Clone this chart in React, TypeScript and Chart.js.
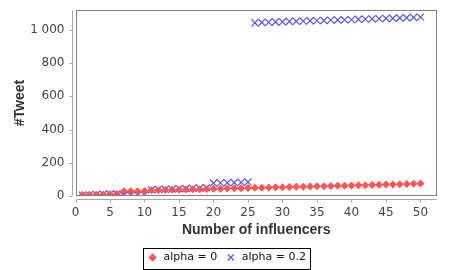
import React, { useEffect, useRef } from "react";
import { Chart, registerables } from "chart.js";

Chart.register(...registerables);

const influencers = [
  1, 2, 3, 4, 5, 6, 7, 8, 9, 10, 11, 12, 13, 14, 15, 16, 17, 18, 19, 20, 21, 22, 23, 24, 25,
  26, 27, 28, 29, 30, 31, 32, 33, 34, 35, 36, 37, 38, 39, 40, 41, 42, 43, 44, 45, 46, 47, 48, 49, 50,
];
const alpha0 = [
  6, 7, 8, 9, 10, 12, 28, 29, 29, 30, 34, 35, 36, 37, 38, 39, 40, 41, 42, 43, 44, 45, 46, 47, 48,
  49, 50, 51, 52, 53, 54, 55, 56, 57, 58, 59, 60, 61, 62, 63, 64, 65, 66, 67, 69, 70, 71, 72, 74, 76,
];
const alpha02 = [
  5, 7, 9, 11, 12, 14, 3, 4, 4, 5, 38, 40, 41, 42, 44, 45, 47, 48, 50, 78, 79, 80, 81, 82, 84,
  1043, 1045, 1046, 1048, 1049, 1051, 1052, 1053, 1055, 1056, 1057, 1059, 1060, 1061, 1062,
  1064, 1065, 1066, 1068, 1069, 1070, 1072, 1073, 1075, 1077,
];
const seriesLabels = ["alpha = 0", "alpha = 0.2"];
const xTicks = [0, 5, 10, 15, 20, 25, 30, 35, 40, 45, 50];
const yTicks = [0, 200, 400, 600, 800, 1000];

const fmt = (v: number) => String(v).replace(/\B(?=(\d{3})+(?!\d))/g, " ");

const LEGEND_SHIFT = 8;

const framePlugin = {
  id: "frame",
  afterLayout(chart: any) {
    const lg = chart.legend;
    if (!lg) return;
    lg.left += LEGEND_SHIFT;
    lg.right += LEGEND_SHIFT;
    (lg.legendHitBoxes || []).forEach((h: any) => {
      h.left += LEGEND_SHIFT;
    });
  },
  afterDraw(chart: any) {
    const { ctx, chartArea: a, scales } = chart;
    ctx.save();
    ctx.lineWidth = 1;
    ctx.strokeStyle = "#808080";
    const l = Math.round(a.left) + 0.5;
    const t = Math.round(a.top) + 0.5;
    const r = Math.round(a.right) - 0.5;
    const b = Math.round(a.bottom) - 0.5;
    ctx.strokeRect(l, t, r - l, b - t);
    ctx.strokeStyle = "#a8a8a8";
    ctx.beginPath();
    const yx = l - 4;
    ctx.moveTo(yx, t);
    ctx.lineTo(yx, b);
    yTicks.forEach((v) => {
      const py = Math.round(scales.y.getPixelForValue(v)) + 0.5;
      ctx.moveTo(yx - 3, py);
      ctx.lineTo(yx, py);
    });
    const xy = b + 4;
    ctx.moveTo(l, xy);
    ctx.lineTo(r, xy);
    xTicks.forEach((v) => {
      const px = Math.round(scales.x.getPixelForValue(v)) + 0.5;
      ctx.moveTo(px, xy);
      ctx.lineTo(px, xy + 3);
    });
    ctx.stroke();
    const lg = chart.legend;
    const hb = lg && lg.legendHitBoxes;
    if (hb && hb.length) {
      const first = hb[0];
      const last = hb[hb.length - 1];
      const cy = first.top + first.height / 2;
      const bl = Math.round(first.left - 4) + 0.5;
      const br = Math.round(last.left + last.width + 4) + 0.5;
      const bt = Math.round(cy - 10) + 0.5;
      ctx.strokeStyle = "#000000";
      ctx.strokeRect(bl, bt, br - bl, 21);
    }
    ctx.restore();
  },
};

export default function App() {
  const ref = useRef<HTMLCanvasElement | null>(null);

  useEffect(() => {
    document.body.style.margin = "0";
    const canvas = ref.current;
    if (!canvas) return;
    const chart = new Chart(canvas, {
      type: "scatter",
      data: {
        datasets: [
          {
            label: seriesLabels[0],
            data: influencers.map((x, i) => ({ x, y: alpha0[i] })),
            pointStyle: "rectRot",
            pointRadius: 4,
            pointBackgroundColor: "#FF5555",
            pointBorderColor: "#FF5555",
            pointBorderWidth: 0,
            backgroundColor: "#FF5555",
            borderColor: "#FF5555",
            showLine: false,
            clip: 0,
          },
          {
            label: seriesLabels[1],
            data: influencers.map((x, i) => ({ x, y: alpha02[i] })),
            pointStyle: "crossRot",
            pointRadius: 5,
            pointBackgroundColor: "#5555FF",
            pointBorderColor: "#5555FF",
            pointBorderWidth: 1.2,
            backgroundColor: "#5555FF",
            borderColor: "#5555FF",
            showLine: false,
            clip: 0,
          },
        ],
      },
      options: {
        responsive: false,
        animation: false,
        devicePixelRatio: 1,
        layout: { padding: { left: 0, top: 10, right: 13, bottom: 0 } },
        plugins: {
          tooltip: { enabled: false },
          legend: {
            position: "bottom",
            maxHeight: 26,
            labels: {
              usePointStyle: true,
              boxHeight: 6,
              boxWidth: 11,
              padding: 8,
              color: "#111111",
              font: { family: "DejaVu Sans", size: 11 },
            },
          },
        },
        scales: {
          x: {
            type: "linear",
            min: 0,
            max: 52.4,
            afterFit: (s: any) => {
              s.height = 48;
              s.paddingLeft = 0;
              s.paddingRight = 0;
            },
            grid: { display: false, drawTicks: false },
            border: { display: false },
            ticks: {
              stepSize: 5,
              includeBounds: false,
              padding: 10,
              color: "#444444",
              font: { family: "DejaVu Sans", size: 12 },
              maxRotation: 0,
            },
            title: {
              display: true,
              text: "Number of influencers",
              color: "#333333",
              font: { family: "Liberation Sans", size: 14, weight: "bold" },
              padding: { top: 0, bottom: 5 },
            },
          },
          y: {
            type: "linear",
            min: 0,
            max: 1120,
            afterFit: (s: any) => {
              s.width = 75.5;
              s.paddingTop = 0;
              s.paddingBottom = 0;
            },
            grid: { display: false, drawTicks: false },
            border: { display: false },
            ticks: {
              stepSize: 200,
              includeBounds: false,
              padding: 11,
              color: "#444444",
              font: { family: "DejaVu Sans", size: 12 },
              callback: (v: any) => fmt(Number(v)),
            },
            title: {
              display: true,
              text: "#Tweet",
              color: "#333333",
              font: { family: "Liberation Sans", size: 14, weight: "bold" },
              padding: { top: 11.6, bottom: 0 },
            },
          },
        },
      },
      plugins: [framePlugin],
    } as any);
    return () => chart.destroy();
  }, []);

  return (
    <div style={{ position: "absolute", left: 0, top: 0, width: 450, height: 270 }}>
      <canvas ref={ref} width={450} height={270} />
    </div>
  );
}
